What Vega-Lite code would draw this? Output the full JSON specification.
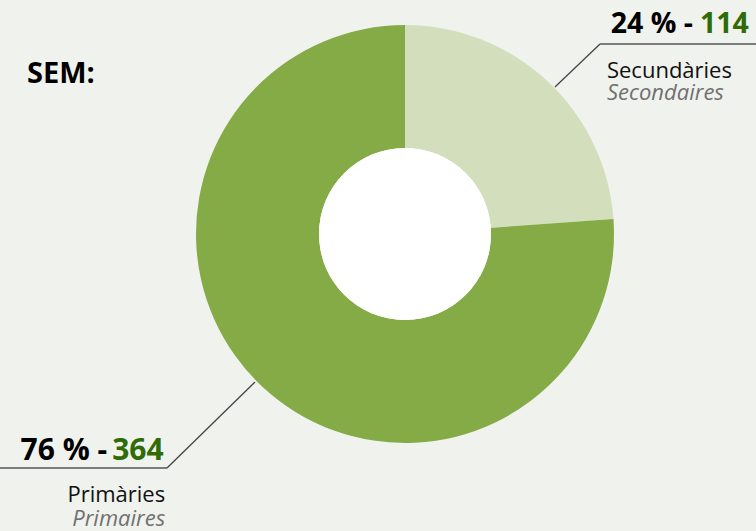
{
  "$schema": "https://vega.github.io/schema/vega-lite/v6.json",
  "width": 700,
  "height": 468,
  "autosize": {"type": "none"},
  "padding": {"left": 55, "top": 0, "right": 1, "bottom": 63},
  "background": "#f0f2ed",
  "config": {"view": {"stroke": null}, "font": "Open Sans"},
  "data": {"values": [
    {"cat": "Secundàries", "fr": "Secondaires", "n": 114, "pct": "24 %"},
    {"cat": "Primàries", "fr": "Primaires", "n": 364, "pct": "76 %"}
  ]},
  "transform": [
    {"window": [{"op": "row_number", "as": "idx"}]},
    {"calculate": "datum.pct + ' -'", "as": "pctDash"}
  ],
  "layer": [
    {
      "mark": {"type": "arc", "outerRadius": 209, "innerRadius": 0, "stroke": null},
      "encoding": {
        "theta": {"field": "n", "type": "quantitative", "stack": true},
        "order": {"field": "idx", "type": "quantitative"},
        "color": {"field": "cat", "type": "nominal", "scale": {"domain": ["Secundàries", "Primàries"], "range": ["#d3dfbc", "#85ab47"]}, "legend": null}
      }
    },
    {
      "mark": {"type": "arc", "outerRadius": 86, "innerRadius": 0, "fill": "#ffffff", "stroke": null},
      "encoding": {}
    },
    {
      "transform": [{"filter": "datum.idx === 1"}],
      "mark": {"type": "text", "align": "left", "baseline": "alphabetic", "fontSize": 29, "fontWeight": "bold", "color": "#000000"},
      "encoding": {
        "x": {"value": -28}, "y": {"value": 83},
        "text": {"value": "SEM:"}
      }
    },
    {
      "transform": [{"filter": "datum.cat === 'Secundàries'"}],
      "mark": {"type": "rule", "stroke": "#444444", "strokeWidth": 1.3},
      "encoding": {
        "x": {"value": 500}, "y": {"value": 87},
        "x2": {"value": 545}, "y2": {"value": 44}
      }
    },
    {
      "transform": [{"filter": "datum.cat === 'Secundàries'"}],
      "mark": {"type": "rule", "stroke": "#555555", "strokeWidth": 1.5},
      "encoding": {
        "x": {"value": 545}, "x2": {"value": 701}, "y": {"value": 44}
      }
    },
    {
      "transform": [{"filter": "datum.cat === 'Primàries'"}],
      "mark": {"type": "rule", "stroke": "#444444", "strokeWidth": 1.3},
      "encoding": {
        "x": {"value": 200}, "y": {"value": 382},
        "x2": {"value": 112}, "y2": {"value": 468}
      }
    },
    {
      "transform": [{"filter": "datum.cat === 'Primàries'"}],
      "mark": {"type": "rule", "stroke": "#555555", "strokeWidth": 1.5},
      "encoding": {
        "x": {"value": 112}, "x2": {"value": -55}, "y": {"value": 468}
      }
    },
    {
      "mark": {"type": "text", "radius": 273, "align": "right", "baseline": "alphabetic", "dx": 102, "dy": -1, "fontSize": 28.5, "fontWeight": "bold", "color": "#000000"},
      "encoding": {
        "theta": {"field": "n", "type": "quantitative", "stack": true},
        "order": {"field": "idx", "type": "quantitative"},
        "text": {"condition": {"test": "datum.cat === 'Secundàries'", "field": "pctDash", "type": "nominal"}, "value": ""}
      }
    },
    {
      "mark": {"type": "text", "radius": 273, "align": "left", "baseline": "alphabetic", "dx": 109, "dy": -1, "fontSize": 28.5, "fontWeight": "bold", "color": "#2f6b06"},
      "encoding": {
        "theta": {"field": "n", "type": "quantitative", "stack": true},
        "order": {"field": "idx", "type": "quantitative"},
        "text": {"condition": {"test": "datum.cat === 'Secundàries'", "field": "n", "type": "nominal"}, "value": ""}
      }
    },
    {
      "mark": {"type": "text", "radius": 273, "align": "left", "baseline": "alphabetic", "dx": 16, "dy": 44, "fontSize": 22, "color": "#111111"},
      "encoding": {
        "theta": {"field": "n", "type": "quantitative", "stack": true},
        "order": {"field": "idx", "type": "quantitative"},
        "text": {"condition": {"test": "datum.cat === 'Secundàries'", "field": "cat", "type": "nominal"}, "value": ""}
      }
    },
    {
      "mark": {"type": "text", "radius": 273, "align": "left", "baseline": "alphabetic", "dx": 16, "dy": 66, "fontSize": 22, "fontStyle": "italic", "color": "#707070"},
      "encoding": {
        "theta": {"field": "n", "type": "quantitative", "stack": true},
        "order": {"field": "idx", "type": "quantitative"},
        "text": {"condition": {"test": "datum.cat === 'Secundàries'", "field": "fr", "type": "nominal"}, "value": ""}
      }
    },
    {
      "mark": {"type": "text", "radius": 333, "align": "right", "baseline": "alphabetic", "dx": -71, "dy": -18, "fontSize": 30, "fontWeight": "bold", "color": "#000000"},
      "encoding": {
        "theta": {"field": "n", "type": "quantitative", "stack": true},
        "order": {"field": "idx", "type": "quantitative"},
        "text": {"condition": {"test": "datum.cat === 'Primàries'", "field": "pctDash", "type": "nominal"}, "value": ""}
      }
    },
    {
      "mark": {"type": "text", "radius": 333, "align": "left", "baseline": "alphabetic", "dx": -66, "dy": -18, "fontSize": 30, "fontWeight": "bold", "color": "#2f6b06"},
      "encoding": {
        "theta": {"field": "n", "type": "quantitative", "stack": true},
        "order": {"field": "idx", "type": "quantitative"},
        "text": {"condition": {"test": "datum.cat === 'Primàries'", "field": "n", "type": "nominal"}, "value": ""}
      }
    },
    {
      "mark": {"type": "text", "radius": 333, "align": "right", "baseline": "alphabetic", "dx": -13, "dy": 24, "fontSize": 22, "color": "#111111"},
      "encoding": {
        "theta": {"field": "n", "type": "quantitative", "stack": true},
        "order": {"field": "idx", "type": "quantitative"},
        "text": {"condition": {"test": "datum.cat === 'Primàries'", "field": "cat", "type": "nominal"}, "value": ""}
      }
    },
    {
      "mark": {"type": "text", "radius": 333, "align": "right", "baseline": "alphabetic", "dx": -13, "dy": 48, "fontSize": 22, "fontStyle": "italic", "color": "#707070"},
      "encoding": {
        "theta": {"field": "n", "type": "quantitative", "stack": true},
        "order": {"field": "idx", "type": "quantitative"},
        "text": {"condition": {"test": "datum.cat === 'Primàries'", "field": "fr", "type": "nominal"}, "value": ""}
      }
    }
  ]
}
